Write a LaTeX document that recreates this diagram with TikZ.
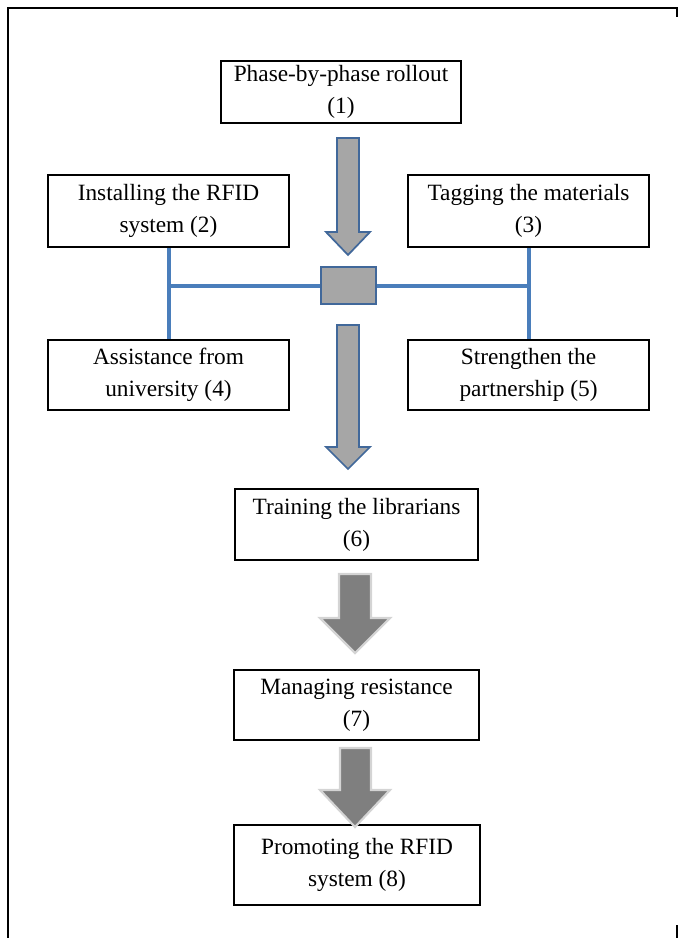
\documentclass[tikz,border=0pt]{standalone}
\usepackage{fontspec}
\setmainfont{Liberation Serif}
\definecolor{outblue}{HTML}{41689A}
\definecolor{lineblue}{HTML}{4A7EBB}
\definecolor{midgray}{HTML}{A6A6A6}
\definecolor{darkgray}{HTML}{7F7F7F}
\definecolor{lightedge}{HTML}{D4D4D4}
\begin{document}
\begin{tikzpicture}[x=0.75pt,y=-0.75pt,
  box/.style={draw=black, line width=1.5pt, fill=white, align=center, inner sep=0pt,
    font=\fontsize{17.5}{24}\selectfont},
  bluearrow/.style={fill=midgray, draw=outblue, line width=1.3pt, line join=miter},
  grayarrow/.style={fill=darkgray, draw=lightedge, line width=1.6pt, line join=miter},
  hubbox/.style={draw=outblue, fill=midgray, line width=1.6pt, minimum width=41.25pt, minimum height=27.75pt, inner sep=0pt},
  link/.style={draw=lineblue, line width=3pt},
  frame/.style={draw=black, line width=2pt}
]
\useasboundingbox (0,0) rectangle (679,938);
% outer frame
\draw[frame] (8,938) -- (8,8) -- (677,8) -- (677,17);
\draw[frame] (677,925) -- (677,938);

% boxes
\node[box, minimum width=180pt, minimum height=46.5pt] (b1) at (341,92) {Phase-by-phase rollout\\(1)};
\node[box, minimum width=180.75pt, minimum height=54pt] (b2) at (168.5,211) {Installing the RFID\\system (2)};
\node[box, minimum width=180.75pt, minimum height=54pt] (b3) at (528.5,211) {Tagging the materials\\(3)};
\node[box, minimum width=180.75pt, minimum height=52.5pt] (b4) at (168.5,375) {Assistance from\\university (4)};
\node[box, minimum width=180.75pt, minimum height=52.5pt] (b5) at (528.5,375) {Strengthen the\\partnership (5)};
\node[box, minimum width=182.25pt, minimum height=53.25pt] (b6) at (356.5,524.5) {Training the librarians\\(6)};
\node[box, minimum width=183.75pt, minimum height=52.5pt] (b7) at (356.5,705) {Managing resistance\\(7)};
\node[box, minimum width=184.5pt, minimum height=60pt] (b8) at (357,865) {Promoting the RFID\\system (8)};

% hub
\node[hubbox] (hub) at (348.5,285.5) {};

% blue connectors
\draw[link] (b2.south) -- (b4.north);
\draw[link] (b3.south) -- (b5.north);
\draw[link] (b2.south |- hub.west) -- (hub.west);
\draw[link] (hub.east) -- (b3.south |- hub.east);

% block arrows
\draw[bluearrow] (337,138) -- (359,138) -- (359,232) -- (370,232) -- (348,255) -- (326,232) -- (337,232) -- cycle;
\draw[bluearrow] (337,325) -- (359,325) -- (359,447) -- (370,447) -- (348,469) -- (326,447) -- (337,447) -- cycle;
\draw[grayarrow] (339,574) -- (371,574) -- (371,618) -- (390,618) -- (355,653) -- (320,618) -- (339,618) -- cycle;
\draw[grayarrow] (340,748) -- (371,748) -- (371,790) -- (390,790) -- (355,827) -- (320,790) -- (340,790) -- cycle;
\end{tikzpicture}
\end{document}
